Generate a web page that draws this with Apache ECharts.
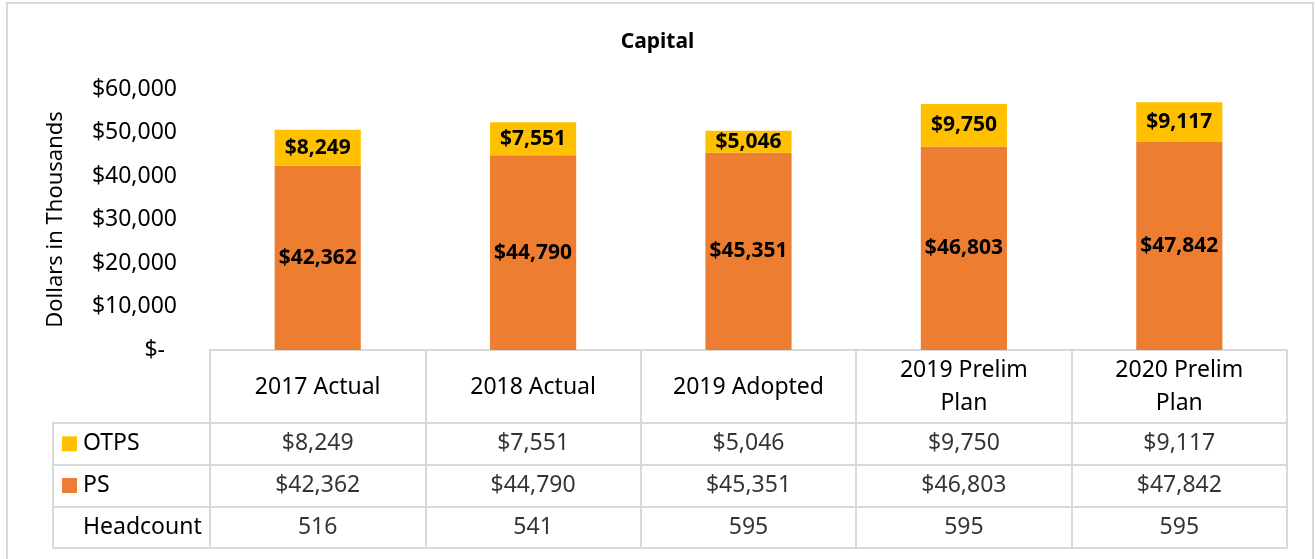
<!DOCTYPE html>
<html>
<head>
<meta charset="utf-8">
<script src="https://cdn.jsdelivr.net/npm/echarts@6/dist/echarts.min.js"></script>
<style>
html,body{margin:0;padding:0;background:#fff;}
#capital{width:1315px;height:559px;}
</style>
</head>
<body>
<div id="capital"></div>
<script>
// chart data
var categories = ['2017 Actual', '2018 Actual', '2019 Adopted', '2019 Prelim\nPlan', '2020 Prelim\nPlan'];
var psValues = [42362, 44790, 45351, 46803, 47842];
var otpsValues = [8249, 7551, 5046, 9750, 9117];
var headcount = [516, 541, 595, 595, 595];
var rowNames = ['OTPS', 'PS', 'Headcount'];

var FONT = '"Noto Sans", "Open Sans", sans-serif';
var LINE = '#d9d9d9';

function money(v){
    return '$' + Number(v).toLocaleString('en-US');
}

// table cells: one point per (column,row)
var rowText = [otpsValues.map(money), psValues.map(money), headcount.map(String)];
var cells = [];
for (var r = 0; r < rowNames.length; r++) {
    for (var i = 0; i < categories.length; i++) {
        cells.push([i, r]);
    }
}

var myChart = echarts.init(document.getElementById('capital'));
var option = {
    animation: false,
    textStyle: { fontFamily: FONT },
    title: {
        text: 'Capital',
        left: 'center',
        top: 27,
        textStyle: { fontFamily: FONT, fontSize: 21, fontWeight: 'bold', color: '#000' }
    },
    graphic: [{
        type: 'rect',
        shape: { x: 7, y: 3, width: 1306, height: 570 },
        style: { fill: 'none', stroke: LINE, lineWidth: 2 },
        silent: true
    }],
    color: ['#ED7D31', '#FFC000'],
    grid: [
        { left: 210, right: 28, top: 89, bottom: 209 },
        { left: 210, right: 28, top: 423, bottom: 11, show: true, borderColor: LINE, borderWidth: 2 },
        { left: 53, width: 157, top: 423, bottom: 11, show: true, borderColor: LINE, borderWidth: 2 }
    ],
    xAxis: [
        {
            gridIndex: 0,
            type: 'category',
            data: categories,
            axisLine: { lineStyle: { color: LINE, width: 2 } },
            axisTick: { show: true, length: 72, lineStyle: { color: LINE, width: 2 } },
            axisLabel: {
                color: '#000',
                fontSize: 23,
                lineHeight: 33,
                margin: 37,
                verticalAlign: 'middle',
                interval: 0
            }
        },
        {
            gridIndex: 1,
            type: 'category',
            data: categories,
            axisLine: { show: false },
            axisTick: { show: false },
            axisLabel: { show: false },
            splitLine: { show: true, lineStyle: { color: LINE, width: 2 } }
        },
        {
            gridIndex: 2,
            type: 'category',
            data: [''],
            axisLine: { show: false },
            axisTick: { show: false },
            axisLabel: { show: false }
        }
    ],
    yAxis: [
        {
            gridIndex: 0,
            type: 'value',
            min: 0,
            max: 60000,
            interval: 10000,
            name: 'Dollars in Thousands',
            nameLocation: 'middle',
            nameGap: 143,
            nameTextStyle: { fontFamily: FONT, fontSize: 22, color: '#000' },
            axisLine: { show: false },
            axisTick: { show: false },
            splitLine: { show: false },
            axisLabel: {
                color: '#000',
                fontSize: 23,
                margin: 33,
                formatter: function(v){
                    return v === 0 ? '{z|$-}' : money(v);
                },
                rich: { z: { fontSize: 23, color: '#000', padding: [0, 12, 0, 0] } }
            }
        },
        {
            gridIndex: 1,
            type: 'category',
            data: rowNames,
            inverse: true,
            axisLine: { show: false },
            axisTick: { show: false },
            axisLabel: { show: false },
            splitLine: { show: true, lineStyle: { color: LINE, width: 2 } }
        },
        {
            gridIndex: 2,
            type: 'category',
            data: rowNames,
            inverse: true,
            axisLine: { show: false },
            axisTick: { show: false },
            splitLine: { show: true, lineStyle: { color: LINE, width: 2 } },
            axisLabel: {
                inside: true,
                margin: 9,
                formatter: function(v){
                    var key = v === 'OTPS' ? 'o' : (v === 'PS' ? 'p' : 'h');
                    return '{' + key + '|}{t|' + v + '}';
                },
                rich: {
                    o: { width: 15, height: 15, backgroundColor: '#FFC000' },
                    p: { width: 15, height: 15, backgroundColor: '#ED7D31' },
                    h: { width: 15, height: 15 },
                    t: { fontSize: 23, color: '#000', padding: [0, 0, 0, 6] }
                }
            }
        }
    ],
    series: [
        {
            name: 'PS',
            type: 'bar',
            stack: 'cap',
            barWidth: '40%',
            label: {
                show: true,
                position: 'inside',
                color: '#000',
                fontSize: 21,
                fontWeight: 'bold',
                formatter: function(p){ return money(p.value); }
            },
            data: psValues
        },
        {
            name: 'OTPS',
            type: 'bar',
            stack: 'cap',
            barWidth: '40%',
            label: {
                show: true,
                position: 'inside',
                color: '#000',
                fontSize: 21,
                fontWeight: 'bold',
                formatter: function(p){ return money(p.value); }
            },
            data: otpsValues
        },
        {
            type: 'scatter',
            xAxisIndex: 1,
            yAxisIndex: 1,
            symbolSize: 1,
            itemStyle: { color: 'rgba(0,0,0,0)' },
            silent: true,
            label: {
                show: true,
                position: 'inside',
                color: '#000',
                fontSize: 23,
                formatter: function(p){ return rowText[p.value[1]][p.value[0]]; }
            },
            data: cells
        }
    ]
};
myChart.setOption(option);
</script>
</body>
</html>
